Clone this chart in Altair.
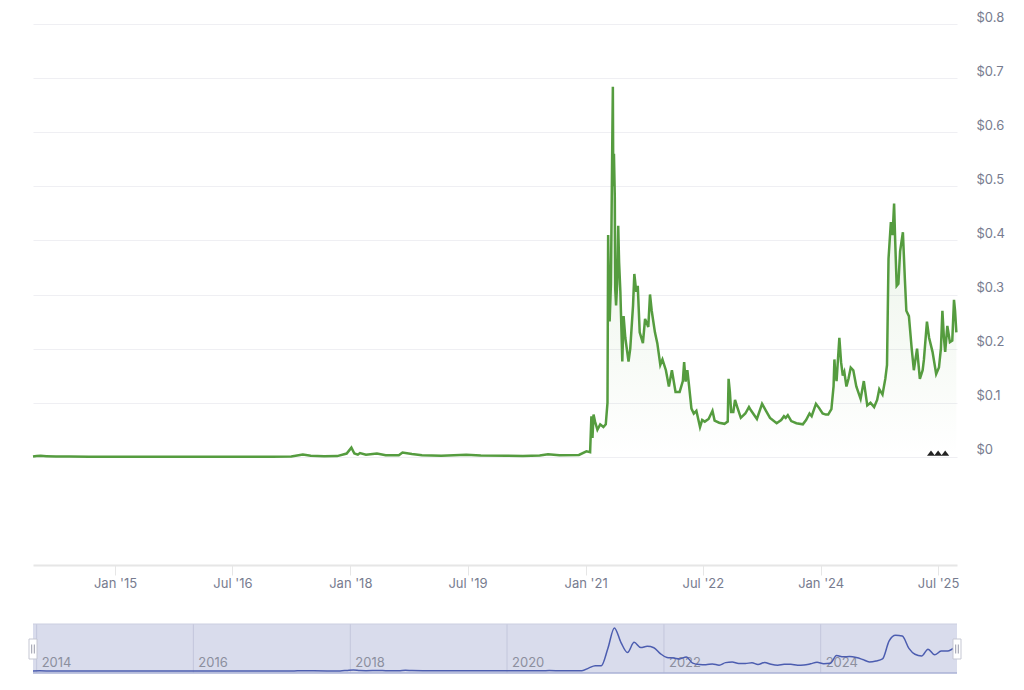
import altair as alt
import pandas as pd

# ---- price series (USD) ----
dates = [
    "2013-12-15", "2014-01-01", "2014-01-20", "2014-02-15", "2014-04-01", "2014-06-01", "2014-09-01",
    "2015-01-01", "2015-06-01", "2016-01-01", "2016-06-01", "2017-01-01", "2017-04-01", "2017-05-25",
    "2017-07-01", "2017-09-01", "2017-11-01", "2017-12-15", "2018-01-06", "2018-01-20", "2018-02-05",
    "2018-02-15", "2018-03-15", "2018-05-05", "2018-06-15", "2018-08-15", "2018-09-01", "2018-10-15",
    "2018-12-01", "2019-03-01", "2019-06-25", "2019-09-01", "2020-01-01", "2020-03-15", "2020-06-01",
    "2020-07-10", "2020-09-01", "2020-12-01",
    "2021-01-05", "2021-01-22", "2021-01-28", "2021-02-02", "2021-02-07", "2021-02-14", "2021-02-25",
    "2021-03-10", "2021-03-25", "2021-04-05", "2021-04-13", "2021-04-16", "2021-04-19", "2021-04-23",
    "2021-04-29", "2021-05-05", "2021-05-08", "2021-05-10", "2021-05-13", "2021-05-17", "2021-05-19",
    "2021-05-23", "2021-05-28", "2021-06-02", "2021-06-06", "2021-06-12", "2021-06-21", "2021-06-27",
    "2021-07-05", "2021-07-20", "2021-07-28", "2021-08-10", "2021-08-16", "2021-08-25", "2021-09-01",
    "2021-09-10", "2021-09-25", "2021-10-05", "2021-10-20", "2021-10-28", "2021-11-05", "2021-11-20",
    "2021-12-01", "2021-12-15", "2021-12-25",
    "2022-01-10", "2022-01-24", "2022-02-07", "2022-02-24", "2022-03-15", "2022-03-30", "2022-04-05",
    "2022-04-12", "2022-04-20", "2022-04-28", "2022-05-09", "2022-05-20", "2022-06-01", "2022-06-18",
    "2022-06-28", "2022-07-10", "2022-07-28", "2022-08-15", "2022-08-25", "2022-09-15", "2022-10-10",
    "2022-10-25", "2022-10-29", "2022-11-04", "2022-11-10", "2022-11-20", "2022-11-28", "2022-12-10",
    "2022-12-25",
    "2023-01-15", "2023-02-01", "2023-02-10", "2023-03-10", "2023-04-03", "2023-04-20", "2023-05-10",
    "2023-06-10", "2023-07-01", "2023-07-14", "2023-07-22", "2023-08-01", "2023-08-17", "2023-09-10",
    "2023-10-10", "2023-10-25", "2023-11-10", "2023-11-20", "2023-12-10", "2023-12-25",
    "2024-01-10", "2024-01-25", "2024-02-05", "2024-02-20", "2024-03-01", "2024-03-05", "2024-03-08",
    "2024-03-15", "2024-03-28", "2024-04-05", "2024-04-13", "2024-04-20", "2024-04-30", "2024-05-10",
    "2024-05-20", "2024-06-01", "2024-06-15", "2024-07-05", "2024-07-20", "2024-08-05", "2024-08-20",
    "2024-09-06", "2024-09-20", "2024-09-30", "2024-10-15", "2024-10-28", "2024-11-05", "2024-11-12",
    "2024-11-23", "2024-12-01", "2024-12-08", "2024-12-13", "2024-12-20", "2024-12-28",
    "2025-01-05", "2025-01-18", "2025-01-27", "2025-02-03", "2025-02-15", "2025-02-28", "2025-03-10",
    "2025-03-25", "2025-04-07", "2025-04-20", "2025-04-26", "2025-05-10", "2025-05-20", "2025-06-05",
    "2025-06-22", "2025-07-05", "2025-07-14", "2025-07-21", "2025-07-28", "2025-08-03", "2025-08-13",
    "2025-08-25", "2025-09-05", "2025-09-13", "2025-09-18", "2025-09-24",
]
prices = [
    0.0005, 0.0015, 0.0018, 0.0012, 0.0005, 0.0004, 0.0002,
    0.00017, 0.00013, 0.00024, 0.00025, 0.00022, 0.0005, 0.004,
    0.002, 0.0012, 0.0013, 0.006, 0.017, 0.006, 0.004,
    0.007, 0.004, 0.006, 0.003, 0.003, 0.008, 0.005,
    0.003, 0.002, 0.004, 0.0025, 0.002, 0.0016, 0.0026,
    0.0045, 0.003, 0.0035,
    0.01, 0.0085, 0.075, 0.035, 0.078, 0.065, 0.05,
    0.06, 0.055, 0.06, 0.10, 0.41, 0.33, 0.25,
    0.32, 0.57, 0.684, 0.50, 0.56, 0.48, 0.31,
    0.28, 0.32, 0.427, 0.36, 0.305, 0.176, 0.26,
    0.22, 0.176, 0.20, 0.28, 0.338, 0.305, 0.316,
    0.23, 0.21, 0.255, 0.24, 0.30, 0.27, 0.23,
    0.21, 0.17, 0.18,
    0.16, 0.13, 0.16, 0.12, 0.12, 0.14, 0.175,
    0.139, 0.16, 0.131, 0.089, 0.08, 0.085, 0.055,
    0.068, 0.065, 0.07, 0.085, 0.067, 0.063, 0.061,
    0.065, 0.144, 0.12, 0.083, 0.083, 0.105, 0.09,
    0.072,
    0.08, 0.092, 0.086, 0.07, 0.098, 0.086, 0.072,
    0.062, 0.068, 0.075, 0.072, 0.077, 0.066, 0.062,
    0.06, 0.068, 0.08, 0.075, 0.098, 0.09,
    0.08, 0.078, 0.078, 0.088, 0.13, 0.18, 0.16,
    0.14, 0.22, 0.175, 0.15, 0.157, 0.13, 0.145,
    0.165, 0.16, 0.13, 0.107, 0.14, 0.095, 0.10,
    0.092, 0.105, 0.125, 0.115, 0.144, 0.17, 0.366,
    0.434, 0.41, 0.468, 0.40, 0.316, 0.32,
    0.38, 0.415, 0.33, 0.27, 0.26, 0.20, 0.16,
    0.20, 0.144, 0.16, 0.18, 0.25, 0.22, 0.194,
    0.153, 0.165, 0.20, 0.27, 0.22, 0.194, 0.242,
    0.212, 0.215, 0.29, 0.27, 0.23,
]

y_ticks = [0, 0.1, 0.2, 0.3, 0.4, 0.5, 0.6, 0.7, 0.8]
x_tick_dates = [(2015, 1), (2016, 7), (2018, 1), (2019, 7), (2021, 1), (2022, 7), (2024, 1), (2025, 7)]
nav_years = ["2014-01-01", "2016-01-01", "2018-01-01", "2020-01-01", "2022-01-01", "2024-01-01"]
nav_labels = ["2014", "2016", "2018", "2020", "2022", "2024"]
flag_dates = ["2025-05-29", "2025-07-01", "2025-08-03"]

df = pd.DataFrame({"date": dates, "price": prices})
years_df = pd.DataFrame({"date": nav_years, "label": nav_labels})
flags_df = pd.DataFrame({"date": flag_dates, "price": [0, 0, 0]})

FONT = "Inter"
LABEL = "#777c8f"
GREEN = "#559c3f"

d0 = alt.DateTime(year=2013, month=12, date=15)
d1 = alt.DateTime(year=2025, month=9, date=27)
xscale = alt.Scale(domain=[d0, d1])

W = 924
H = 541
NOVIEW = alt.ViewBackground(stroke="transparent", strokeWidth=0)

x_enc = alt.X(
    "date:T",
    scale=xscale,
    axis=alt.Axis(
        values=[alt.DateTime(year=y, month=m, date=1) for y, m in x_tick_dates],
        format="%b '%y",
        title=None,
        grid=False,
        domainColor="#e6e6e6",
        domainWidth=2,
        tickColor="#e6e6e6",
        tickSize=10,
        labelPadding=2,
        labelColor=LABEL,
        labelFontSize=13,
        labelFont=FONT,
    ),
)
y_enc = alt.Y(
    "price:Q",
    scale=alt.Scale(domain=[-0.2, 0.8], nice=False),
    axis=alt.Axis(
        orient="right",
        values=y_ticks,
        format="$.1~f",
        title=None,
        grid=True,
        gridColor="#efeff3",
        gridWidth=1,
        domain=False,
        ticks=False,
        labelAlign="left",
        labelBaseline="bottom",
        labelPadding=19,
        labelColor=LABEL,
        labelFontSize=13,
        labelFont=FONT,
    ),
)

grad = alt.Gradient(
    gradient="linear",
    stops=[
        alt.GradientStop(color="rgba(85,156,63,0.17)", offset=0),
        alt.GradientStop(color="rgba(85,156,63,0.0)", offset=1),
    ],
    x1=1, x2=1, y1=0, y2=1,
)

area = alt.Chart(df).mark_area(fill=grad, line=False).encode(x=x_enc, y=y_enc, y2=alt.datum(0))
line = alt.Chart(df).mark_line(color=GREEN, strokeWidth=2.5).encode(x=x_enc, y=y_enc)
flags = alt.Chart(flags_df).mark_point(
    shape="M-1,1L0,-0.3L1,1Z", filled=True, color="#222222", size=64, opacity=1, yOffset=-5
).encode(x=x_enc, y=y_enc)

main = alt.layer(area, line, flags).properties(width=W, height=H, view=NOVIEW)

# ---- navigator ----
NH = 49
nx = alt.X("date:T", scale=xscale, axis=None)
nav_bg = alt.Chart(pd.DataFrame({"a": [0]})).mark_rect(color="#d9dcec").encode(
    x=alt.X(datum=d0, type="temporal", scale=xscale, axis=None),
    x2=alt.X2(datum=d1),
    y=alt.value(0), y2=alt.value(NH),
)
nav_grid = alt.Chart(years_df).mark_rule(color="#c3c7dc", strokeWidth=1).encode(
    x=nx, y=alt.value(0), y2=alt.value(NH)
)
nav_text = alt.Chart(years_df).mark_text(
    align="left", baseline="bottom", dx=5, font=FONT, fontSize=13, color="#8c8f9e"
).encode(x=nx, y=alt.value(NH - 3), text="label:N")
# navigator: monthly means of the same series, drawn mid-month
nav_line = alt.Chart(df).transform_timeunit(
    m="yearmonth(date)"
).transform_aggregate(
    sm="mean(price)", groupby=["m"]
).transform_calculate(
    date="datetime(year(datum.m), month(datum.m), 15)"
).mark_line(color="#4c5db0", strokeWidth=1.5, interpolate="monotone").encode(
    x=nx, y=alt.Y("sm:Q", scale=alt.Scale(domain=[-0.0215, 0.505], nice=False), axis=None)
)
nav_bottom = alt.Chart(pd.DataFrame({"a": [0]})).mark_rule(color="#aab2d6", strokeWidth=1.5).encode(
    x=alt.value(0), x2=alt.value(W), y=alt.value(NH)
)
nav_top = alt.Chart(pd.DataFrame({"a": [0]})).mark_rule(color="#cbcee0", strokeWidth=1).encode(
    x=alt.value(0), x2=alt.value(W), y=alt.value(0)
)
handles_df = pd.DataFrame({"date": ["2013-12-15", "2025-09-27"]})
handle_box = alt.Chart(handles_df).mark_point(
    shape="M-0.4,-1L0.4,-1L0.4,1L-0.4,1Z", filled=True, fill="white", stroke="#c5c7d3",
    strokeWidth=1, size=400, opacity=1
).encode(x=nx, y=alt.value(25))
handle_lines = alt.Chart(handles_df).mark_point(
    shape="M-0.13,-0.45L-0.13,0.45M0.13,-0.45L0.13,0.45", filled=False, stroke="#9a9cab",
    strokeWidth=1, size=400, opacity=1
).encode(x=nx, y=alt.value(25))

nav = alt.layer(nav_bg, nav_grid, nav_text, nav_line, nav_top, nav_bottom, handle_box, handle_lines).properties(
    width=W, height=NH, view=NOVIEW
)

chart = alt.vconcat(main, nav, spacing=33).properties(
    padding={"left": 19, "top": 3, "right": 5, "bottom": 5}
).configure_view(stroke="transparent", strokeWidth=0).configure(font=FONT)

chart.save("out.html", embed_options={"renderer": "svg", "actions": False})
